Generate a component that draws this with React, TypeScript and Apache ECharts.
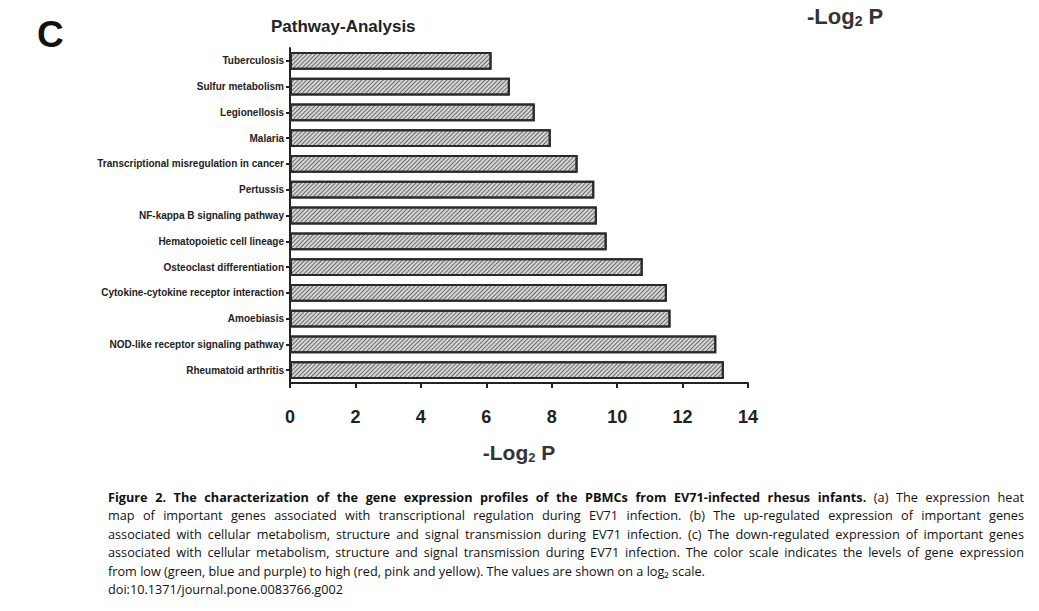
import React, { useEffect, useRef } from "react";
import * as echarts from "echarts";

const categories = [
  "Tuberculosis",
  "Sulfur metabolism",
  "Legionellosis",
  "Malaria",
  "Transcriptional misregulation in cancer",
  "Pertussis",
  "NF-kappa B signaling pathway",
  "Hematopoietic cell lineage",
  "Osteoclast differentiation",
  "Cytokine-cytokine receptor interaction",
  "Amoebiasis",
  "NOD-like receptor signaling pathway",
  "Rheumatoid arthritis",
];
const values = [6.16, 6.72, 7.48, 7.97, 8.79, 9.3, 9.38, 9.68, 10.78, 11.52, 11.63, 13.03, 13.26];
const xTicks = [0, 2, 4, 6, 8, 10, 12, 14];

const captionLines: { bold?: string; text: string; justify: boolean }[] = [
  {
    bold: "Figure 2. The characterization of the gene expression profiles of the PBMCs from EV71-infected rhesus infants.",
    text: " (a) The expression heat",
    justify: true,
  },
  {
    text: "map of important genes associated with transcriptional regulation during EV71 infection. (b) The up-regulated expression of important genes",
    justify: true,
  },
  {
    text: "associated with cellular metabolism, structure and signal transmission during EV71 infection. (c) The down-regulated expression of important genes",
    justify: true,
  },
  {
    text: "associated with cellular metabolism, structure and signal transmission during EV71 infection. The color scale indicates the levels of gene expression",
    justify: true,
  },
  {
    text: "from low (green, blue and purple) to high (red, pink and yellow). The values are shown on a log\u2082 scale.",
    justify: false,
  },
  { text: "doi:10.1371/journal.pone.0083766.g002", justify: false },
];

const FONT = "Liberation Sans, Arial, sans-serif";

export default function App() {
  const ref = useRef<HTMLDivElement>(null);
  useEffect(() => {
    if (!ref.current) return;
    const chart = echarts.init(ref.current, undefined, { renderer: "svg" });
    chart.setOption({
      animation: false,
      backgroundColor: "#ffffff",
      title: {
        text: "Pathway-Analysis",
        left: 266,
        top: 13,
        textStyle: { fontFamily: FONT, fontSize: 17, fontWeight: "bold", color: "#222" },
      },
      graphic: [
        {
          type: "text",
          left: 37,
          top: 16,
          style: { text: "C", fontFamily: FONT, fontSize: 37, fontWeight: "bold", fill: "#111" },
        },
        {
          type: "text",
          left: 807,
          top: 5,
          style: {
            text: "-Log{s|2} P",
            fontFamily: FONT,
            fontSize: 22,
            fontWeight: "bold",
            fill: "#333",
            rich: {
              s: { fontFamily: FONT, fontSize: 14, fontWeight: "bold", fill: "#333", padding: [10, 0, 0, 0] },
            },
          },
        },
      ],
      grid: { left: 290, top: 48, width: 458, height: 335, containLabel: false },
      xAxis: {
        type: "value",
        min: 0,
        max: 14,
        interval: 2,
        name: "-Log{s|2} P",
        nameLocation: "middle",
        nameGap: 58,
        nameTextStyle: {
          fontFamily: FONT,
          fontSize: 21,
          fontWeight: "bold",
          color: "#333",
          rich: {
            s: { fontFamily: FONT, fontSize: 13, fontWeight: "bold", color: "#333", padding: [10, 0, 0, 0] },
          },
        },
        axisLine: { show: true, lineStyle: { color: "#222", width: 2 } },
        axisTick: { show: true, length: 5, lineStyle: { color: "#222", width: 2 } },
        axisLabel: {
          margin: 25,
          fontFamily: FONT,
          fontSize: 18,
          fontWeight: "bold",
          color: "#222",
          formatter: (v: number) => (xTicks.includes(v) ? String(v) : ""),
        },
        splitLine: { show: false },
      },
      yAxis: {
        type: "category",
        data: categories,
        inverse: true,
        axisLine: { show: true, lineStyle: { color: "#222", width: 2 } },
        axisTick: { show: true, alignWithLabel: true, length: 4, lineStyle: { color: "#222", width: 2 } },
        axisLabel: { margin: 6, fontFamily: FONT, fontSize: 10, fontWeight: "bold", color: "#222" },
      },
      series: [
        {
          type: "bar",
          data: values,
          barWidth: "69%",
          itemStyle: {
            color: "#d6d6d6",
            borderColor: "#2a2a2a",
            borderWidth: 2,
            decal: {
              symbol: "rect",
              symbolSize: 1,
              dashArrayX: [1, 0],
              dashArrayY: [1, 2],
              rotation: -Math.PI / 4,
              color: "rgba(70,70,70,0.75)",
            },
          },
        },
      ],
    });
    return () => chart.dispose();
  }, []);

  return (
    <div style={{ position: "absolute", left: 0, top: 0, width: 1039, height: 611, background: "#fff" }}>
      <div ref={ref} style={{ position: "absolute", left: 0, top: 0, width: 1039, height: 611 }} />
      <div
        style={{
          position: "absolute",
          left: 108,
          top: 488,
          width: 916,
          fontFamily: "'Open Sans', sans-serif",
          fontSize: 12.7,
          lineHeight: "18.4px",
          color: "#111",
        }}
      >
        {captionLines.map((l, i) => (
          <div
            key={i}
            style={{
              whiteSpace: "nowrap",
              textAlign: l.justify ? "justify" : "left",
              textAlignLast: l.justify ? "justify" : "left",
            }}
          >
            {l.bold ? <b>{l.bold}</b> : null}
            {l.text}
          </div>
        ))}
      </div>
    </div>
  );
}
